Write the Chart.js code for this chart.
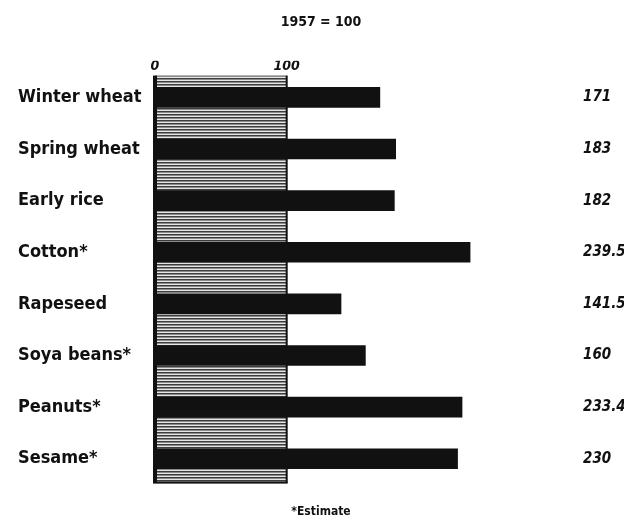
<!DOCTYPE html>
<html lang="en">
<head>
  <meta charset="UTF-8">
  <title>1957 = 100</title>
  <style>
    html, body { margin: 0; padding: 0; background: #fff; }
    #wrap { width: 642px; height: 520px; }
  </style>
</head>
<body>
  <div id="wrap"><canvas id="chartCanvas" width="642" height="520"></canvas></div>

  <script src="https://cdn.jsdelivr.net/npm/chart.js"></script>
  <script>
    // data
    const crops = ['Winter wheat', 'Spring wheat', 'Early rice', 'Cotton*', 'Rapeseed', 'Soya beans*', 'Peanuts*', 'Sesame*'];
    const index1958 = [171, 183, 182, 239.5, 141.5, 160, 233.4, 230];
    const axisTicks = [0, 100];
    const baseValue = 100;

    const labelFont = 'DejaVu Sans Condensed, DejaVu Sans, sans-serif';

    // hatched pattern for the 0-100 band
    function hatch() {
      const c = document.createElement('canvas');
      c.width = 4; c.height = 3;
      const g = c.getContext('2d');
      g.fillStyle = '#e6e6e6';
      g.fillRect(0, 0, 4, 3);
      g.fillStyle = '#3c3c3c';
      g.fillRect(0, 0, 4, 1);
      g.fillStyle = '#8a8a8a';
      g.fillRect(0, 1, 4, 1);
      return g.createPattern(c, 'repeat');
    }

    const baseBand = {
      id: 'baseBand',
      beforeDatasetsDraw(chart) {
        const ctx = chart.ctx, x = chart.scales.x, area = chart.chartArea;
        const x0 = x.getPixelForValue(axisTicks[0]);
        const x1 = x.getPixelForValue(baseValue);
        const top = area.top + 4, bottom = area.bottom - 2;
        ctx.save();
        ctx.fillStyle = hatch();
        ctx.fillRect(x0, top, x1 - x0, bottom - top);
        ctx.fillStyle = '#111';
        ctx.fillRect(x0 - 2, top, 4, bottom - top);
        ctx.fillRect(x1 - 1, top, 2, bottom - top);
        ctx.fillRect(x0 - 2, bottom - 1, x1 - x0 + 3, 2);
        ctx.restore();
      }
    };

    const ctx = document.getElementById('chartCanvas').getContext('2d');
    new Chart(ctx, {
      type: 'bar',
      data: {
        labels: crops,
        datasets: [{
          data: index1958,
          backgroundColor: '#111',
          borderWidth: 0,
          barPercentage: 0.4,
          categoryPercentage: 1
        }]
      },
      plugins: [baseBand],
      options: {
        indexAxis: 'y',
        responsive: false,
        animation: false,
        layout: { padding: { left: 18, right: 18, top: 0, bottom: 0 } },
        plugins: {
          legend: { display: false },
          tooltip: { enabled: false },
          title: {
            display: true,
            text: '1957 = 100',
            color: '#111',
            font: { family: labelFont, size: 14, weight: 'bold' },
            padding: { top: 14, bottom: 30 }
          },
          subtitle: {
            display: true,
            position: 'bottom',
            text: '*Estimate',
            color: '#111',
            font: { family: labelFont, size: 12, weight: 'bold' },
            padding: { top: 20, bottom: 1 }
          }
        },
        scales: {
          x: {
            position: 'top',
            min: 0,
            max: 325,
            grid: { display: false, drawTicks: false },
            border: { display: false },
            afterBuildTicks(axis) { axis.ticks = axisTicks.map(v => ({ value: v })); },
            ticks: {
              color: '#111',
              padding: -3,
              font: { family: labelFont, size: 14, weight: 'bold', style: 'italic' }
            }
          },
          y: {
            grid: { display: false, drawTicks: false },
            border: { display: false },
            afterFit(axis) { axis.width = 137; },
            ticks: {
              crossAlign: 'far',
              color: '#111',
              padding: 0,
              font: { family: labelFont, size: 18, weight: 'bold' }
            }
          },
          y2: {
            type: 'category',
            position: 'right',
            display: true,
            offset: true,
            labels: index1958.map(v => String(v)),
            grid: { display: false, drawTicks: false },
            border: { display: false },
            afterFit(axis) { axis.width = 41; },
            ticks: {
              crossAlign: 'near',
              color: '#111',
              padding: 0,
              font: { family: labelFont, size: 15, weight: 'bold', style: 'italic' }
            }
          }
        }
      }
    });
  </script>
</body>
</html>
